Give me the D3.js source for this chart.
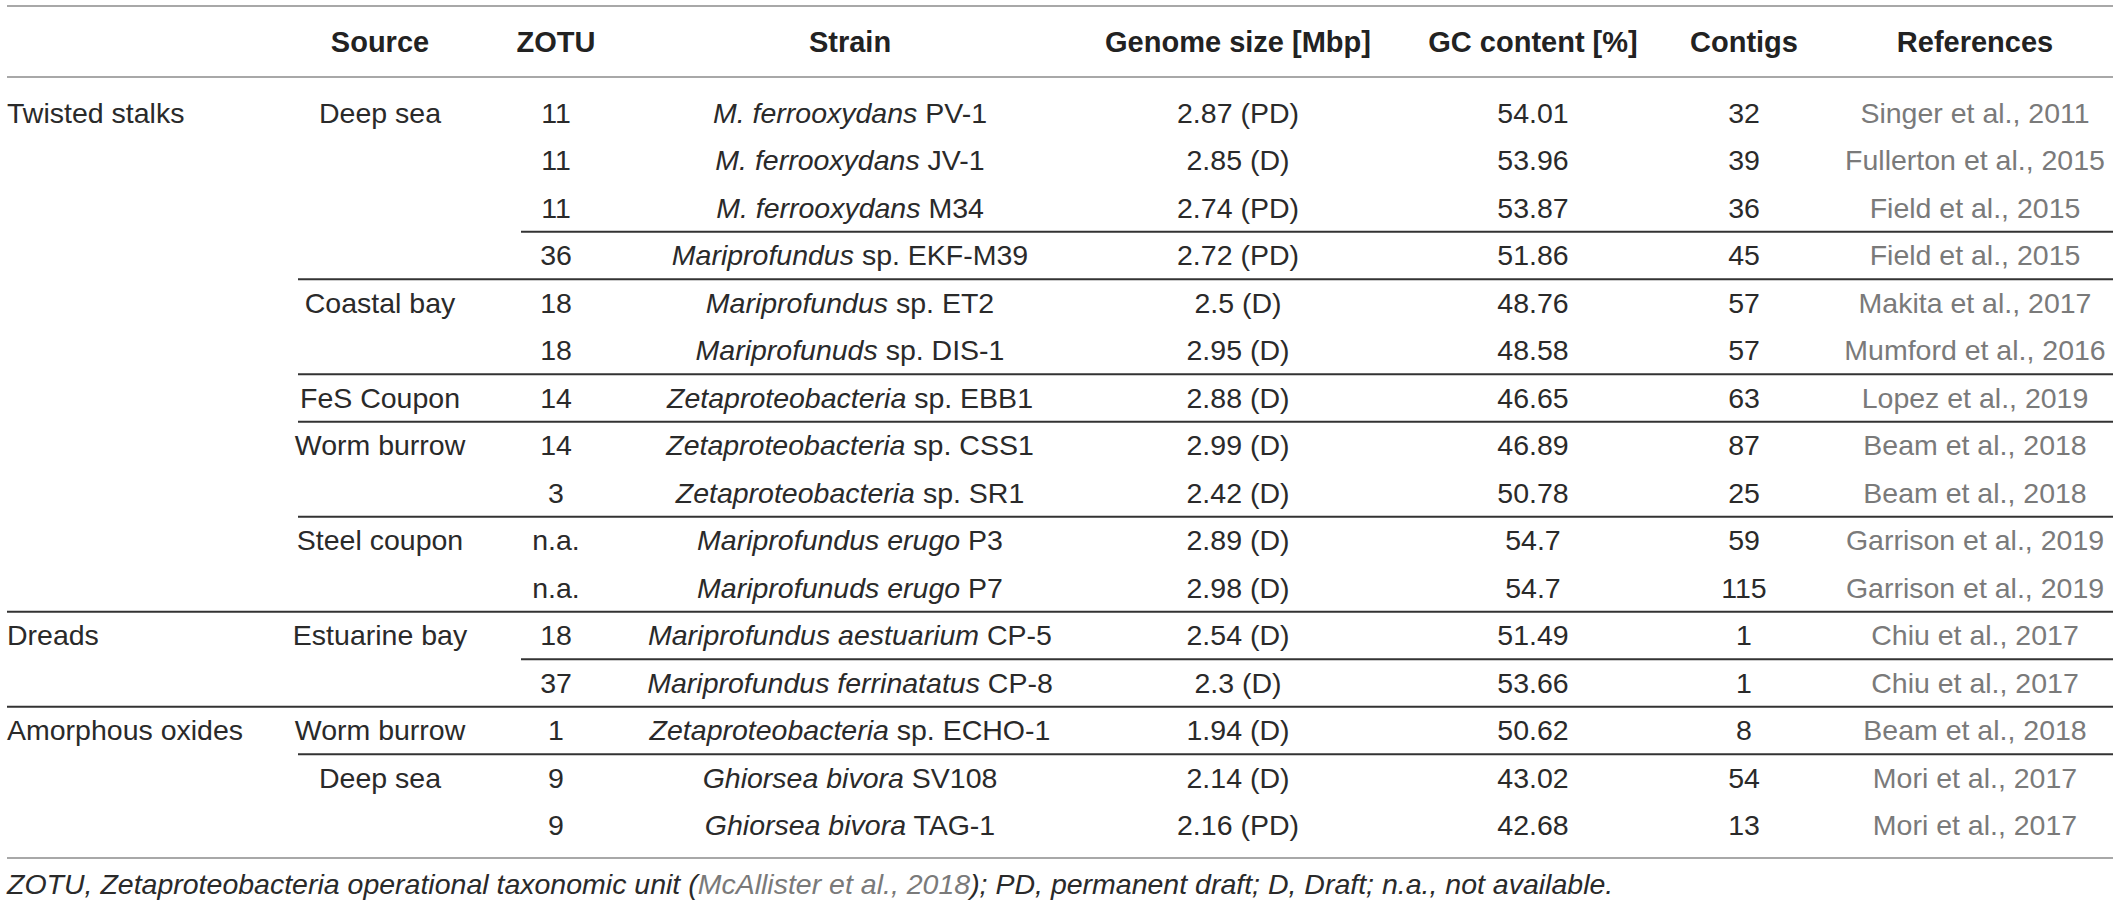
<!DOCTYPE html>
<html>
<head>
<meta charset="utf-8">
<script src="https://cdn.jsdelivr.net/npm/d3@7"></script>
<style>
  body { margin: 0; background: #fff; }
  svg { display: block; font-family: "Liberation Sans", Arial, sans-serif; }
</style>
</head>
<body>
<svg width="2119" height="906"></svg>
<script>
const headers = ["", "Source", "ZOTU", "Strain", "Genome size [Mbp]", "GC content [%]", "Contigs", "References"];
const categories = ["Twisted stalks", "", "", "", "", "", "", "", "", "", "", "Dreads", "", "Amorphous oxides", "", ""];
const sources = ["Deep sea", "", "", "", "Coastal bay", "", "FeS Coupon", "Worm burrow", "", "Steel coupon", "", "Estuarine bay", "", "Worm burrow", "Deep sea", ""];
const zotus = ["11", "11", "11", "36", "18", "18", "14", "14", "3", "n.a.", "n.a.", "18", "37", "1", "9", "9"];
const strainGenus = ["M. ferrooxydans", "M. ferrooxydans", "M. ferrooxydans", "Mariprofundus", "Mariprofundus", "Mariprofunuds",
  "Zetaproteobacteria", "Zetaproteobacteria", "Zetaproteobacteria", "Mariprofundus erugo", "Mariprofunuds erugo",
  "Mariprofundus aestuarium", "Mariprofundus ferrinatatus", "Zetaproteobacteria", "Ghiorsea bivora", "Ghiorsea bivora"];
const strainId = ["PV-1", "JV-1", "M34", "sp. EKF-M39", "sp. ET2", "sp. DIS-1", "sp. EBB1", "sp. CSS1", "sp. SR1", "P3", "P7",
  "CP-5", "CP-8", "sp. ECHO-1", "SV108", "TAG-1"];
const genomeSize = ["2.87 (PD)", "2.85 (D)", "2.74 (PD)", "2.72 (PD)", "2.5 (D)", "2.95 (D)", "2.88 (D)", "2.99 (D)", "2.42 (D)",
  "2.89 (D)", "2.98 (D)", "2.54 (D)", "2.3 (D)", "1.94 (D)", "2.14 (D)", "2.16 (PD)"];
const gcContent = ["54.01", "53.96", "53.87", "51.86", "48.76", "48.58", "46.65", "46.89", "50.78", "54.7", "54.7", "51.49",
  "53.66", "50.62", "43.02", "42.68"];
const contigs = ["32", "39", "36", "45", "57", "57", "63", "87", "25", "59", "115", "1", "1", "8", "54", "13"];
const references = ["Singer et al., 2011", "Fullerton et al., 2015", "Field et al., 2015", "Field et al., 2015",
  "Makita et al., 2017", "Mumford et al., 2016", "Lopez et al., 2019", "Beam et al., 2018", "Beam et al., 2018",
  "Garrison et al., 2019", "Garrison et al., 2019", "Chiu et al., 2017", "Chiu et al., 2017", "Beam et al., 2018",
  "Mori et al., 2017", "Mori et al., 2017"];
// row index after which a rule is drawn, and the column it starts from
const ruleAfter = [2, 3, 5, 6, 8, 10, 11, 12, 13];
const ruleFrom = ["zotu", "source", "source", "source", "source", "all", "zotu", "all", "source"];

const svg = d3.select("svg");
const ink = "#2a2a2a";
const grey = "#7a7a7a";
const fontSize = 28.5;

const colX = d3.scaleOrdinal()
  .domain(d3.range(headers.length))
  .range([7, 380, 556, 850, 1238, 1533, 1744, 1975]);
const ruleX = d3.scaleOrdinal()
  .domain(["all", "source", "zotu"])
  .range([7, 298, 521]);
const rowY = d3.scaleBand()
  .domain(d3.range(zotus.length))
  .range([89.25, 849.25]);
const mid = i => rowY(i) + rowY.bandwidth() / 2;
const right = 2113;

// outer rules
[6, 77, 858].forEach(y => {
  svg.append("line")
    .attr("x1", 7).attr("x2", right)
    .attr("y1", y).attr("y2", y)
    .attr("stroke", "#a8a8a8")
    .attr("stroke-width", 2);
});

// inner rules
ruleAfter.forEach((r, k) => {
  const y = rowY(r) + rowY.bandwidth();
  svg.append("line")
    .attr("x1", ruleX(ruleFrom[k])).attr("x2", right)
    .attr("y1", y).attr("y2", y)
    .attr("stroke", "#333")
    .attr("stroke-width", 2);
});

// header
svg.append("g").selectAll("text")
  .data(headers)
  .join("text")
  .attr("x", (d, i) => colX(i))
  .attr("y", 42)
  .attr("dy", "0.35em")
  .attr("text-anchor", "middle")
  .attr("font-size", 29)
  .attr("font-weight", "bold")
  .attr("fill", "#222")
  .text(d => d);

function column(values, ci, anchor, colour) {
  svg.append("g").selectAll("text")
    .data(values)
    .join("text")
    .attr("x", colX(ci))
    .attr("y", (d, i) => mid(i))
    .attr("dy", "0.35em")
    .attr("text-anchor", anchor)
    .attr("font-size", fontSize)
    .attr("fill", colour)
    .text(d => d);
}

column(categories, 0, "start", ink);
column(sources, 1, "middle", ink);
column(zotus, 2, "middle", ink);
column(genomeSize, 4, "middle", ink);
column(gcContent, 5, "middle", ink);
column(contigs, 6, "middle", ink);
column(references, 7, "middle", grey);

// strain: italic name + roman id
const strain = svg.append("g").selectAll("text")
  .data(strainGenus)
  .join("text")
  .attr("x", colX(3))
  .attr("y", (d, i) => mid(i))
  .attr("dy", "0.35em")
  .attr("text-anchor", "middle")
  .attr("font-size", fontSize)
  .attr("fill", ink);
strain.append("tspan").attr("font-style", "italic").text(d => d);
strain.append("tspan").text((d, i) => " " + strainId[i]);

// footnote
const note = svg.append("text")
  .attr("x", 7)
  .attr("y", 884)
  .attr("dy", "0.35em")
  .attr("font-size", fontSize)
  .attr("font-style", "italic")
  .attr("fill", ink);
note.append("tspan").text("ZOTU, Zetaproteobacteria operational taxonomic unit (");
note.append("tspan").attr("fill", grey).text("McAllister et al., 2018");
note.append("tspan").text("); PD, permanent draft; D, Draft; n.a., not available.");
</script>
</body>
</html>
